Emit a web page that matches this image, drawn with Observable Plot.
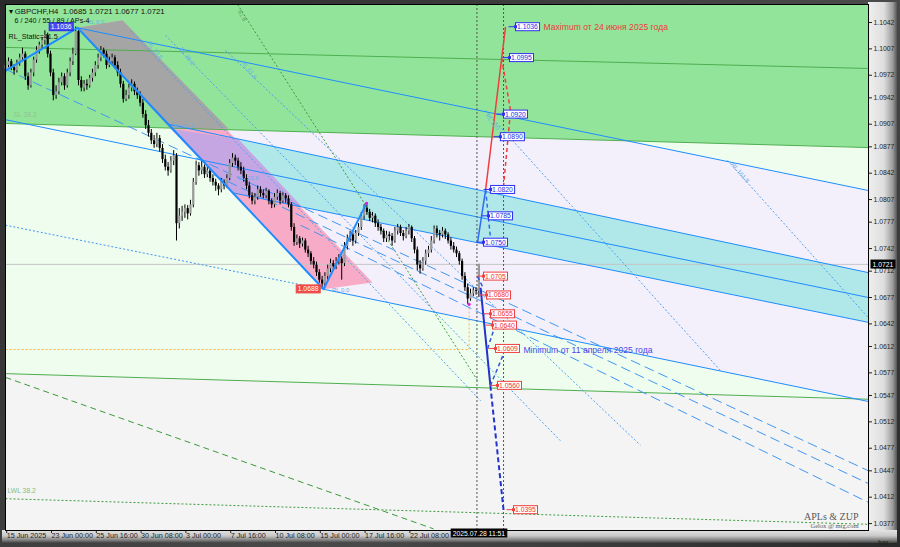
<!DOCTYPE html>
<html><head><meta charset="utf-8">
<script src="https://cdn.jsdelivr.net/npm/d3@7"></script>
<script src="https://cdn.jsdelivr.net/npm/@observablehq/plot@0.6"></script>
<style>
body{margin:0;background:#2e2e2e;}
#wrap{position:relative;width:900px;height:547px;overflow:hidden;background:linear-gradient(135deg,#2a2a2a,#4a4a4a 60%,#2a2a2a);}
#rstrip{position:absolute;left:868px;top:2px;width:29px;height:534px;background:linear-gradient(to right,#efefef,#dedede 55%,#9c9c9c 85%,#555);}
#bstrip{position:absolute;left:2px;top:530px;width:895px;height:13px;background:linear-gradient(to bottom,#e4e4e4,#c8c8c8 45%,#7a7a7a 80%,#404040);}
#chart{position:absolute;left:0;top:0;}
</style></head>
<body><div id="wrap"><div id="rstrip"></div><div id="bstrip"></div><div id="chart"></div></div>
<script>
// ---------- data ----------
const firstBar = -16;           // bar index of first candle (23 Jun 00:00 = bar 0)
const candles = [               // [open, high, low, close]
[1.0980,1.0992,1.0975,1.0985],[1.0985,1.0995,1.0982,1.0990],[1.0990,1.0993,1.0978,1.0982],[1.0982,1.0986,1.0972,1.0978],
[1.0978,1.0992,1.0975,1.0988],[1.0988,1.1000,1.0984,1.0995],[1.0995,1.1008,1.0990,1.1000],[1.1000,1.1003,1.0965,1.0970],
[1.0970,1.0975,1.0952,1.0958],[1.0958,1.0980,1.0955,1.0975],[1.0975,1.0996,1.0970,1.0992],[1.0992,1.1010,1.0988,1.1005],
[1.1005,1.1016,1.1000,1.1012],[1.1012,1.1022,1.1006,1.1018],[1.1018,1.1031,1.1012,1.1025],[1.1025,1.1028,1.0995,1.1000],
[1.1000,1.1004,1.0970,1.0975],[1.0975,1.0980,1.0938,1.0945],[1.0945,1.0958,1.0940,1.0950],[1.0950,1.0968,1.0946,1.0962],
[1.0962,1.0975,1.0958,1.0970],[1.0970,1.0974,1.0952,1.0958],[1.0958,1.0980,1.0955,1.0975],[1.0975,1.0995,1.0970,1.0990],
[1.0990,1.1008,1.0985,1.1000],[1.1000,1.1036,1.0998,1.1030],[1.1030,1.1032,1.0958,1.0965],[1.0965,1.0970,1.0950,1.0955],
[1.0955,1.0965,1.0950,1.0960],[1.0960,1.0966,1.0952,1.0958],[1.0958,1.0972,1.0955,1.0968],[1.0968,1.0980,1.0963,1.0975],
[1.0975,1.0990,1.0970,1.0985],[1.0985,1.1000,1.0980,1.0995],[1.0995,1.1010,1.0990,1.1005],[1.1005,1.1008,1.0995,1.1000],
[1.1000,1.1004,1.0980,1.0985],[1.0985,1.0996,1.0982,1.0990],[1.0990,1.1000,1.0986,1.0995],[1.0995,1.0998,1.0980,1.0985],
[1.0985,1.0990,1.0970,1.0975],[1.0975,1.0980,1.0955,1.0960],[1.0960,1.0964,1.0935,1.0940],[1.0940,1.0952,1.0937,1.0945],
[1.0945,1.0960,1.0940,1.0955],[1.0955,1.0966,1.0950,1.0960],[1.0960,1.0963,1.0945,1.0950],[1.0950,1.0955,1.0940,1.0945],
[1.0945,1.0950,1.0930,1.0935],[1.0935,1.0940,1.0915,1.0920],[1.0920,1.0925,1.0900,1.0905],[1.0905,1.0912,1.0890,1.0895],
[1.0895,1.0900,1.0880,1.0885],[1.0885,1.0892,1.0875,1.0880],[1.0880,1.0895,1.0876,1.0888],[1.0888,1.0892,1.0870,1.0875],
[1.0875,1.0880,1.0855,1.0860],[1.0860,1.0866,1.0845,1.0850],[1.0850,1.0856,1.0838,1.0845],[1.0845,1.0864,1.0842,1.0858],
[1.0858,1.0872,1.0852,1.0865],[1.0865,1.0868,1.0752,1.0775],[1.0775,1.0795,1.0768,1.0785],[1.0785,1.0798,1.0778,1.0790],
[1.0790,1.0800,1.0782,1.0795],[1.0795,1.0799,1.0780,1.0788],[1.0788,1.0806,1.0785,1.0800],[1.0800,1.0835,1.0796,1.0830],
[1.0830,1.0858,1.0826,1.0852],[1.0852,1.0856,1.0838,1.0845],[1.0845,1.0858,1.0840,1.0850],[1.0850,1.0853,1.0835,1.0840],
[1.0840,1.0850,1.0836,1.0845],[1.0845,1.0848,1.0830,1.0835],[1.0835,1.0840,1.0825,1.0830],[1.0830,1.0834,1.0818,1.0825],
[1.0825,1.0828,1.0812,1.0820],[1.0820,1.0835,1.0816,1.0830],[1.0830,1.0833,1.0820,1.0825],[1.0825,1.0840,1.0822,1.0835],
[1.0835,1.0860,1.0832,1.0855],[1.0855,1.0868,1.0850,1.0862],[1.0862,1.0866,1.0852,1.0858],[1.0858,1.0862,1.0845,1.0850],
[1.0850,1.0856,1.0840,1.0845],[1.0845,1.0850,1.0830,1.0835],[1.0835,1.0840,1.0820,1.0825],[1.0825,1.0830,1.0808,1.0812],
[1.0812,1.0816,1.0800,1.0805],[1.0805,1.0815,1.0800,1.0810],[1.0810,1.0825,1.0806,1.0820],[1.0820,1.0824,1.0810,1.0815],
[1.0815,1.0820,1.0808,1.0812],[1.0812,1.0822,1.0808,1.0818],[1.0818,1.0820,1.0800,1.0805],[1.0805,1.0808,1.0795,1.0800],
[1.0800,1.0815,1.0796,1.0810],[1.0810,1.0820,1.0806,1.0815],[1.0815,1.0818,1.0800,1.0805],[1.0805,1.0816,1.0802,1.0812],
[1.0812,1.0815,1.0802,1.0808],[1.0808,1.0812,1.0796,1.0800],[1.0800,1.0803,1.0765,1.0770],[1.0770,1.0775,1.0745,1.0750],
[1.0750,1.0760,1.0746,1.0755],[1.0755,1.0758,1.0742,1.0748],[1.0748,1.0756,1.0744,1.0752],[1.0752,1.0755,1.0736,1.0740],
[1.0740,1.0745,1.0730,1.0735],[1.0735,1.0738,1.0720,1.0725],[1.0725,1.0730,1.0715,1.0720],[1.0720,1.0724,1.0705,1.0710],
[1.0710,1.0714,1.0696,1.0700],[1.0700,1.0705,1.0688,1.0695],[1.0695,1.0710,1.0690,1.0705],[1.0705,1.0720,1.0700,1.0715],
[1.0715,1.0728,1.0710,1.0722],[1.0722,1.0726,1.0712,1.0718],[1.0718,1.0730,1.0714,1.0725],[1.0725,1.0734,1.0720,1.0728],
[1.0728,1.0731,1.0700,1.0722],[1.0722,1.0750,1.0718,1.0745],[1.0745,1.0760,1.0740,1.0755],[1.0755,1.0765,1.0750,1.0760],
[1.0760,1.0763,1.0745,1.0752],[1.0752,1.0766,1.0748,1.0762],[1.0762,1.0775,1.0758,1.0770],[1.0770,1.0790,1.0766,1.0785],
[1.0785,1.0800,1.0780,1.0795],[1.0795,1.0803,1.0786,1.0790],[1.0790,1.0794,1.0778,1.0782],[1.0782,1.0790,1.0776,1.0785],
[1.0785,1.0788,1.0770,1.0775],[1.0775,1.0780,1.0765,1.0770],[1.0770,1.0774,1.0760,1.0765],[1.0765,1.0768,1.0750,1.0755],
[1.0755,1.0765,1.0750,1.0760],[1.0760,1.0764,1.0752,1.0758],[1.0758,1.0762,1.0745,1.0752],[1.0752,1.0770,1.0749,1.0765],
[1.0765,1.0774,1.0760,1.0770],[1.0770,1.0773,1.0758,1.0762],[1.0762,1.0766,1.0752,1.0758],[1.0758,1.0770,1.0755,1.0765],
[1.0765,1.0774,1.0760,1.0770],[1.0770,1.0772,1.0750,1.0755],[1.0755,1.0758,1.0735,1.0740],[1.0740,1.0744,1.0712,1.0720],
[1.0720,1.0726,1.0708,1.0715],[1.0715,1.0730,1.0712,1.0725],[1.0725,1.0740,1.0720,1.0735],[1.0735,1.0745,1.0730,1.0740],
[1.0740,1.0758,1.0736,1.0752],[1.0752,1.0772,1.0748,1.0768],[1.0768,1.0772,1.0756,1.0762],[1.0762,1.0766,1.0752,1.0760],
[1.0760,1.0770,1.0756,1.0765],[1.0765,1.0768,1.0754,1.0760],[1.0760,1.0763,1.0748,1.0752],[1.0752,1.0756,1.0740,1.0745],
[1.0745,1.0750,1.0736,1.0740],[1.0740,1.0744,1.0730,1.0735],[1.0735,1.0738,1.0720,1.0725],[1.0725,1.0728,1.0700,1.0705],
[1.0705,1.0710,1.0685,1.0690],[1.0690,1.0695,1.0668,1.0675],[1.0675,1.0688,1.0672,1.0682],[1.0682,1.0690,1.0678,1.0686],
[1.0686,1.0690,1.0680,1.0685],[1.0685,1.0721,1.0677,1.0721]
];
const xTickBars = [-16, 0, 16, 32, 48, 64, 80, 96, 112, 128, 144];
const xTickLabels = ["15 Jun 2025","23 Jun 00:00","25 Jun 16:00","30 Jun 08:00","3 Jul 00:00","7 Jul 16:00","10 Jul 08:00","15 Jul 00:00","17 Jul 16:00","22 Jul 08:00",""];
const yTickValues = [1.1042,1.1007,1.0972,1.0942,1.0907,1.0877,1.0842,1.0807,1.0777,1.0742,1.0712,1.0677,1.0642,1.0612,1.0577,1.0547,1.0512,1.0477,1.0447,1.0412,1.0377];
const barDomain = [-16.07, 292.14];
const priceDomain = [1.03678, 1.10659];
const currentBar = 153, currentPrice = 1.0721, currentTimeLabel = "2025.07.28 11:51";
const timeLines = [152.3, 161.8];
const headerLine = "\u25BE GBPCHF,H4  1.0685 1.0721 1.0677 1.0721";
const settingsLine = "6 / 240 / 55 / 89 / APs-4";

// zones: [bar, price] vertices
const greenZone    = [[-16.07,1.1066],[292.14,1.1066],[292.14,1.0876],[-16.07,1.0908]];
const mintZone     = [[-16.07,1.0908],[292.14,1.0876],[292.14,1.0542],[-16.07,1.0576]];
const lavenderZone = [[42.86,1.0901],[206.07,1.0885],[292.14,1.0819],[292.14,1.0539],[97.5,1.0688]];
const cyanChannel  = [[42.14,1.0907],[292.14,1.0710],[292.14,1.0644],[65.0,1.0816]];
const pinkBand     = [[9.64,1.1035],[25.71,1.1045],[115.0,1.0697],[97.5,1.0688]];
const greyBandPart = [[9.64,1.1035],[25.71,1.1045],[63.57,1.0901],[42.86,1.0901]];
const purplePart   = [[42.86,1.0901],[67.14,1.0887],[89.64,1.0798],[65.0,1.0816]];

// lines: [bar1, price1, bar2, price2]
const zigzag = [[-16.07,1.0978],[9.64,1.1035],[97.5,1.0688],[112.86,1.0802]];
const solidBlue = [
  [9.64,1.1035,292.14,1.0819],[42.14,1.0907,292.14,1.0710],[-16.07,1.0913,292.14,1.0677],
  [65.0,1.0816,292.14,1.0644],[97.5,1.0688,292.14,1.0539]];
const dottedBlue = [[-16.07,1.0773,97.5,1.0688]];
const dashedBlue = [[-16.07,1.0980,292.14,1.0447],[53.6,1.0848,292.14,1.0430],[89.3,1.0773,292.14,1.0405]];
const fanLines = [[28.6,1.1031,153.6,1.0540],[41.1,1.1025,182.1,1.0487],[62.5,1.1005,210.7,1.0481],
  [155.4,1.0925,239.3,1.0580],[241.8,1.0859,292.14,1.0650]];
const greenSolid = [[-16.07,1.1009,292.14,1.0981],[-16.07,1.0908,292.14,1.0876],[-16.07,1.0576,292.14,1.0542]];
const greenDashed = [[-16.07,1.0571,136.8,1.0370]];
const greenDotted = [[-16.07,1.0410,292.14,1.0376],[66.8,1.1066,152.5,1.0567]];
const orangeDotted = [[-16.07,1.0608,149.5,1.0608],[149.5,1.0608,149.5,1.0668]];
const pivotDots = [[112.86,1.0802],[149.5,1.0668]];

// forecast paths
const redSolid  = [[155.4,1.0820],[162.5,1.1036]];
const redDashed = [[161.1,1.0995],[164.3,1.0925],[161.8,1.0825]];
const blueUpSolid = [[152.5,1.0750],[155.4,1.0820]];
const blueUpDashed = [[155.4,1.0820],[157.1,1.0757]];
const blueDownSolid = [[153.6,1.0690],[157.1,1.0560]];
const blueDownDashed = [[157.1,1.0560],[161.8,1.0395]];
const blueSmallDashed = [[157.1,1.0560,161.8,1.0602],[156.1,1.0609,158.2,1.0633],[152.5,1.0705,154.5,1.0690]];

// price labels [bar anchor, price]
const blueLevels = [[163.4,1.1036],[161.25,1.0995],[159.1,1.0920],[158.0,1.0890],[154.5,1.0820],[153.75,1.0785],[151.96,1.0750]];
const redLevels  = [[151.96,1.0705],[153.04,1.0680],[154.46,1.0655],[155.18,1.0640],[156.25,1.0609],[156.96,1.0560],[162.68,1.0395]];
const highMark = [9.64, 1.1036];
const lowMark  = [97.5, 1.0688];
const maxNote = {bar:176.1, price:1.1036, text:"Maximum от 24 июня 2025 года"};
const minNote = {bar:168.9, price:1.0607, text:"Minimum от 11 апреля 2025 года"};
const lineTags = [
  {bar:35.0, price:1.1016, text:"RL 23.6", rot:52},
  {bar:46.4, price:1.1008, text:"RL 38.2", rot:52},
  {bar:68.6, price:1.0990, text:"RL 61.8", rot:52},
  {bar:13.0, price:1.1042, text:"RL 0.0", rot:0},
  {bar:155.7, price:1.0920, text:"RL 100", rot:52},
  {bar:243.5, price:1.0855, text:"RL 161.8", rot:50},
  {bar:44.0, price:1.0904, text:"SL 61.8", rot:0},
  {bar:67.0, price:1.0835, text:"SL 23.6", rot:0},
  {bar:100.5, price:1.0687, text:"RL 0.0", rot:0}
];

// ---------- chart ----------
const rows = candles.map((d, k) => ({bar: firstBar + k, o: d[0], h: d[1], l: d[2], c: d[3]}));
const poly = (pts, fill) => Plot.line(pts, {x: d => d[0], y: d => d[1], fill, stroke: "none", curve: "linear-closed"});
const seg = (arr, o) => Plot.link(arr, {x1: d => d[0], y1: d => d[1], x2: d => d[2], y2: d => d[3], ...o});
const path = (pts, o) => Plot.line(pts, {x: d => d[0], y: d => d[1], strokeLinecap: "butt", ...o});
const F = "Liberation Sans, Arial, sans-serif";
const BLUE = "#1e8cff";
// distinct text colours used to find the label groups afterwards
const C_BLUE = "#2a2ae8", C_RED = "#f03030", C_REDFILL = "#fffffe", C_BLUEFILL = "#fffffd", C_BLACK = "#fefefe";

const chart = Plot.plot({
  width: 900, height: 547,
  marginLeft: 5, marginRight: 32, marginTop: 4, marginBottom: 17,
  x: {domain: barDomain},
  y: {domain: priceDomain},
  style: {background: "transparent", fontFamily: F},
  marks: [
    Plot.frame({fill: "#f4f4f4"}),
    poly(mintZone, "#effdef"),
    poly(greenZone, "#93e49b"),
    poly(lavenderZone, "#f3f0fb"),
    poly(cyanChannel, "#b0e7e8"),
    poly(pinkBand, "#f7abc6"),
    poly(purplePart, "#c6a6e2"),
    poly(greyBandPart, "#a4a5a4"),
    Plot.ruleY([currentPrice], {stroke: "#c4c4c4", strokeWidth: 1}),
    seg(greenSolid, {stroke: "#4fae4f", strokeWidth: 1}),
    seg(greenDashed, {stroke: "#3b9a3b", strokeWidth: 1, strokeDasharray: "6,4"}),
    seg(greenDotted, {stroke: "#3b9a3b", strokeWidth: 1, strokeDasharray: "2,2"}),
    seg(orangeDotted, {stroke: "#ffb347", strokeWidth: 1, strokeDasharray: "2,2"}),
    seg(fanLines, {stroke: "#4aa0f5", strokeWidth: 1, strokeDasharray: "2,2"}),
    seg(dashedBlue, {stroke: "#3f96f2", strokeWidth: 1, strokeDasharray: "10,5"}),
    seg(dottedBlue, {stroke: "#3f96f2", strokeWidth: 1, strokeDasharray: "2,2"}),
    seg(solidBlue, {stroke: BLUE, strokeWidth: 1}),
    // candles
    Plot.ruleX(rows, {x: "bar", y1: "l", y2: "h", stroke: "#000", strokeWidth: 1}),
    Plot.ruleX(rows, {filter: d => d.c >= d.o, x: "bar", y1: "o", y2: "c", stroke: "#9a9a9a", strokeWidth: 2.2}),
    Plot.ruleX(rows, {filter: d => d.c < d.o, x: "bar", y1: "o", y2: "c", stroke: "#000", strokeWidth: 2.2}),
    path(zigzag, {stroke: BLUE, strokeWidth: 2}),
    Plot.dot(pivotDots, {x: d => d[0], y: d => d[1], r: 1.6, fill: "#e020e0", stroke: "none"}),
    Plot.ruleX(timeLines, {stroke: "#555", strokeWidth: 1, strokeDasharray: "2,2"}),
    // forecast
    path(redSolid, {stroke: "#f03c3c", strokeWidth: 1.5}),
    path(redDashed, {stroke: "#f03c3c", strokeWidth: 1.5, strokeDasharray: "4,3"}),
    path(blueUpSolid, {stroke: "#2f6cf0", strokeWidth: 1.5}),
    path(blueUpDashed, {stroke: "#2f6cf0", strokeWidth: 1.5, strokeDasharray: "4,3"}),
    path(blueDownSolid, {stroke: "#2233cc", strokeWidth: 2}),
    path(blueDownDashed, {stroke: "#2233cc", strokeWidth: 2, strokeDasharray: "5,3"}),
    seg(blueSmallDashed, {stroke: "#3355dd", strokeWidth: 1.5, strokeDasharray: "4,3"}),
    // line tags
    Plot.text(lineTags, {x: "bar", y: "price", text: "text", rotate: d => d.rot, fontSize: 6, fill: "#6aaee8", textAnchor: "start"}),
    Plot.text(["SL 38.2"], {frameAnchor: "top-left", dx: 8, dy: 108, fontSize: 6.8, fill: "#8fc48f", lineAnchor: "top"}),
    Plot.text(["LWL 38.2"], {frameAnchor: "top-left", dx: 2, dy: 484, fontSize: 6.8, fill: "#7fbf7f", lineAnchor: "top"}),
    Plot.text(["61.8"], {frameAnchor: "top-left", dx: 236, dy: 5, fontSize: 6, fill: "#5a9a5a", rotate: 62, textAnchor: "start", lineAnchor: "top"}),
    // price labels
    Plot.text(blueLevels, {x: d => d[0], y: d => d[1], text: d => d[1].toFixed(4), dx: 9, textAnchor: "start", fontSize: 6.8, fill: C_BLUE}),
    Plot.text(redLevels, {x: d => d[0], y: d => d[1], text: d => d[1].toFixed(4), dx: 9, textAnchor: "start", fontSize: 6.8, fill: C_RED}),
    Plot.text([lowMark], {x: d => d[0], y: d => d[1], text: d => d[1].toFixed(4), dx: -5, textAnchor: "end", fontSize: 6.8, fill: C_REDFILL}),
    Plot.text([highMark], {x: d => d[0], y: d => d[1], text: d => d[1].toFixed(4), dx: -6, textAnchor: "end", fontSize: 6.8, fill: C_BLUEFILL}),
    Plot.text([maxNote], {x: "bar", y: "price", text: "text", textAnchor: "start", fontSize: 8.6, fill: "#ee3a3a"}),
    Plot.text([minNote], {x: "bar", y: "price", text: "text", textAnchor: "start", fontSize: 8.6, fill: "#4848e8"}),
    // header texts
    Plot.text([headerLine], {frameAnchor: "top-left", dx: 3, dy: 3.5, fontSize: 7.8, fill: "#111", lineAnchor: "top"}),
    Plot.text([settingsLine], {frameAnchor: "top-left", dx: 9, dy: 13, fontSize: 7.2, fill: "#111", lineAnchor: "top"}),
    Plot.text(["RL_Static=41.5"], {frameAnchor: "top-left", dx: 3, dy: 29, fontSize: 7.2, fill: "#111", lineAnchor: "top"}),
    Plot.text(["APLs & ZUP"], {frameAnchor: "bottom-right", dx: -10, dy: -11, fontSize: 10, fill: "#5a5a5a", fontFamily: "Liberation Serif, serif", textAnchor: "end"}),
    Plot.text(["Gelox @ mtg.com"], {frameAnchor: "bottom-right", dx: -10, dy: -3, fontSize: 6.5, fill: "#5a5a5a", fontFamily: "Liberation Serif, serif", textAnchor: "end"}),
    // axes
    Plot.axisY({anchor: "right", ticks: yTickValues, tickFormat: d => d.toFixed(4), tickSize: 3, tickPadding: 2, fontSize: 6.8, color: "#222"}),
    Plot.axisX({anchor: "bottom", ticks: xTickBars, tickFormat: d => xTickLabels[xTickBars.indexOf(d)], tickSize: 3, tickPadding: -1, textAnchor: "start", dx: 1, fontSize: 7.2, color: "#222"}),
    Plot.frame({stroke: "#000", strokeWidth: 1}),
    Plot.text([currentPrice], {y: d => d, frameAnchor: "right", dx: 4, text: d => d.toFixed(4), textAnchor: "start", fontSize: 6.8, fill: C_BLACK}),
    Plot.text([currentTimeLabel], {x: currentBar, frameAnchor: "bottom", dy: 5, text: d => d, fontSize: 6.8, fill: C_BLACK})
  ]
});
document.getElementById("chart").appendChild(chart);

// boxes behind price labels
const NS = "http://www.w3.org/2000/svg";
function labelTexts(color) {
  const out = new Set();
  chart.querySelectorAll("text").forEach(t => {
    let f = t.getAttribute("fill");
    if (!f && t.parentNode) f = t.parentNode.getAttribute("fill");
    if (f && f.toLowerCase() === color) out.add(t);
  });
  return [...out];
}
function boxify(color, fill, stroke, connector, textColor) {
  labelTexts(color).forEach(t => {
    const b = t.getBBox();
    const tr = t.getAttribute("transform");
    const r = document.createElementNS(NS, "rect");
    r.setAttribute("x", b.x - 1.5); r.setAttribute("y", b.y - 0.5);
    r.setAttribute("width", b.width + 3); r.setAttribute("height", b.height + 1);
    r.setAttribute("fill", fill); r.setAttribute("stroke", stroke); r.setAttribute("stroke-width", 1);
    if (tr) r.setAttribute("transform", tr);
    t.parentNode.insertBefore(r, t);
    if (connector) {
      const cy = b.y + b.height / 2;
      const l = document.createElementNS(NS, "line");
      l.setAttribute("x1", b.x - 1.5 - connector); l.setAttribute("x2", b.x - 1.5);
      l.setAttribute("y1", cy); l.setAttribute("y2", cy);
      l.setAttribute("stroke", stroke); l.setAttribute("stroke-width", 1);
      const s = document.createElementNS(NS, "rect");
      s.setAttribute("x", b.x - 3); s.setAttribute("y", cy - 1.5); s.setAttribute("width", 3); s.setAttribute("height", 3);
      s.setAttribute("fill", stroke);
      if (tr) { l.setAttribute("transform", tr); s.setAttribute("transform", tr); }
      t.parentNode.insertBefore(l, r); t.parentNode.insertBefore(s, t);
    }
    if (textColor) t.setAttribute("fill", textColor);
  });
}
boxify(C_BLUE, "#ffffff", "#3030f0", 7);
boxify(C_RED, "#ffffff", "#f04040", 7);
boxify(C_REDFILL, "#f04848", "#f04848", 0, "#ffffff");
boxify(C_BLUEFILL, "#4a4af0", "#2a2ae8", 0, "#ffffff");
boxify(C_BLACK, "#000000", "#000000", 0, "#ffffff");
</script></body></html>
